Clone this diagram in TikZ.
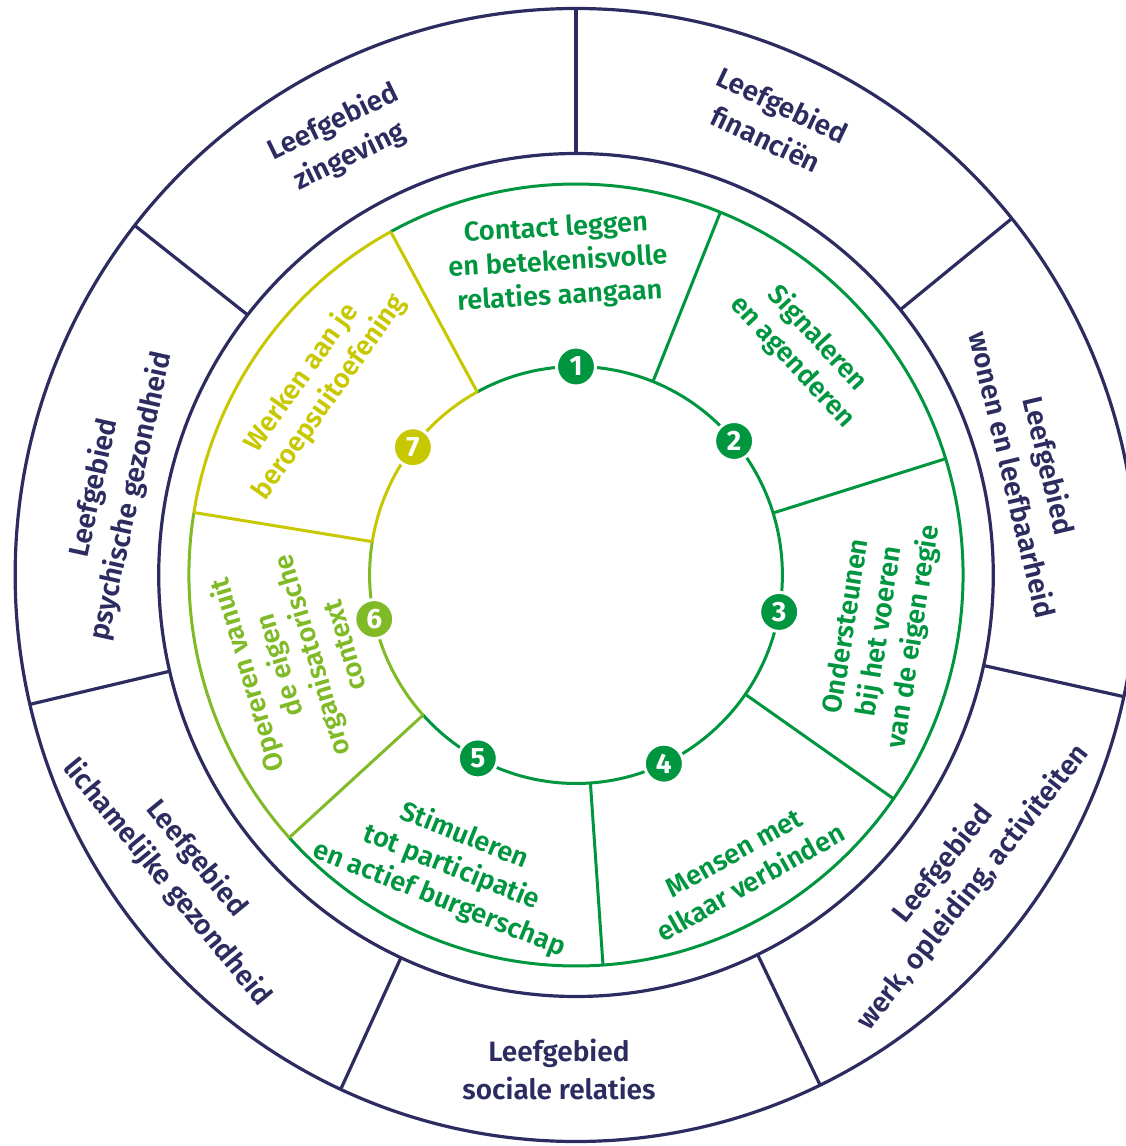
\documentclass[tikz,border=0pt]{standalone}
\usepackage{fontspec}
\setmainfont{Fira Sans}[UprightFont={* SemiBold},BoldFont={* Bold}]
\definecolor{cNavy}{RGB}{44,44,96}
\definecolor{cGreen}{RGB}{0,150,64}
\definecolor{cLime}{RGB}{128,186,39}
\definecolor{cYel}{RGB}{200,200,0}
\tikzset{
  navyline/.style={draw=cNavy,line width=3.2pt},
  gline/.style={draw=#1,line width=3pt},
  outtxt/.style={text=cNavy,align=center,inner sep=0pt,font=\fontsize{28}{38}\selectfont},
  midtxt/.style={text=#1,align=center,inner sep=0pt,font=\fontsize{27.2}{34}\selectfont},
  numdot/.style={circle,fill=#1,draw=white,line width=3pt,minimum size=39pt,inner sep=0pt,text=white,font=\fontsize{28}{28}\selectfont\bfseries},
}
\begin{document}
\begin{tikzpicture}[x=0.99pt,y=1pt]
\fill[white] (-581.82,-571) rectangle (554.55,575);
\path[use as bounding box] (-581.82,-571) rectangle (554.55,575);
% outer ring
\draw[navyline] (0,0) circle (566.5);
\draw[navyline] (0,0) circle (421.5);
\foreach \a in {90,39,-12.4,-64.2,-114.8,-166.8,141.9}
  \draw[navyline] (\a:421.5) -- (\a:566.5);
% middle ring
\draw[gline=cGreen] (-137.8:391) arc[start angle=-137.8,end angle=118.6,x radius=387.09pt,y radius=391pt];
\draw[gline=cYel] (118.6:391) arc[start angle=118.6,end angle=170.8,x radius=387.09pt,y radius=391pt];
\draw[gline=cLime] (170.8:391) arc[start angle=170.8,end angle=222.2,x radius=387.09pt,y radius=391pt];
\draw[gline=cGreen] (-137.8:208.5) arc[start angle=-137.8,end angle=118.6,x radius=206.415pt,y radius=208.5pt];
\draw[gline=cYel] (118.6:208.5) arc[start angle=118.6,end angle=170.8,x radius=206.415pt,y radius=208.5pt];
\draw[gline=cLime] (170.8:208.5) arc[start angle=170.8,end angle=222.2,x radius=206.415pt,y radius=208.5pt];
\foreach \a/\c in {118.6/cYel,68.1/cGreen,17.3/cGreen,-34.9/cGreen,-86/cGreen,-137.8/cLime,170.8/cYel}
  \draw[gline=\c] (\a:208.5) -- (\a:391);
% numbered dots
\node[numdot=cGreen] (n1) at (90:208.5) {1};
\node[numdot=cGreen] (n2) at (40:208.5) {2};
\node[numdot=cGreen] (n3) at (-10.2:208.5) {3};
\node[numdot=cGreen] (n4) at (-64.8:208.5) {4};
\node[numdot=cGreen] (n5) at (-118.4:208.5) {5};
\node[numdot=cLime] (n6) at (-167.8:208.5) {6};
\node[numdot=cYel] (n7) at (142.2:208.5) {7};
% outer texts
\node[outtxt,rotate=25.85] (o1) at (-236.8,435.3) {Leefgebied\\zingeving};
\node[outtxt,rotate=-25.35] (o2) at (200.5,453.5) {Leefgebied\\financiën};
\node[outtxt,rotate=-76.55] (o3) at (460.1,105) {Leefgebied\\wonen en leefbaarheid};
\node[outtxt,rotate=51.6] (o4) at (386.1,-301) {Leefgebied\\werk, opleiding, activiteiten};
\node[outtxt] (o5) at (-17.2,-494) {Leefgebied\\sociale relaties};
\node[outtxt,rotate=-50.6] (o6) at (-398.2,-295.6) {Leefgebied\\lichamelijke gezondheid};
\node[outtxt,rotate=77.55] (o7) at (-467.8,83) {Leefgebied\\psychische gezondheid};
% middle texts
\node[midtxt=cGreen,rotate=3.35] (m1) at (-18.2,312) {Contact leggen\\en betekenisvolle\\relaties aangaan};
\node[midtxt=cGreen,rotate=-47.15] (m2) at (231.3,225) {Signaleren\\en agenderen};
\node[midtxt=cGreen,rotate=81.1] (m3) at (307.9,-56.7) {Ondersteunen\\bij het voeren\\van de eigen regie};
\node[midtxt=cGreen,rotate=29.4] (m4) at (168,-292.9) {Mensen met\\elkaar verbinden};
\node[midtxt=cGreen,rotate=-21.75] (m5) at (-125.6,-292.5) {Stimuleren\\tot participatie\\en actief burgerschap};
\node[midtxt=cLime,rotate=106.6] (m6) at (-284.6,-85.8) {Opereren vanuit\\de eigen\\organisatorische\\context};
\node[midtxt=cYel,rotate=54.55] (m7) at (-263.1,187.5) {Werken aan je\\beroepsuitoefening};
\end{tikzpicture}
\end{document}
